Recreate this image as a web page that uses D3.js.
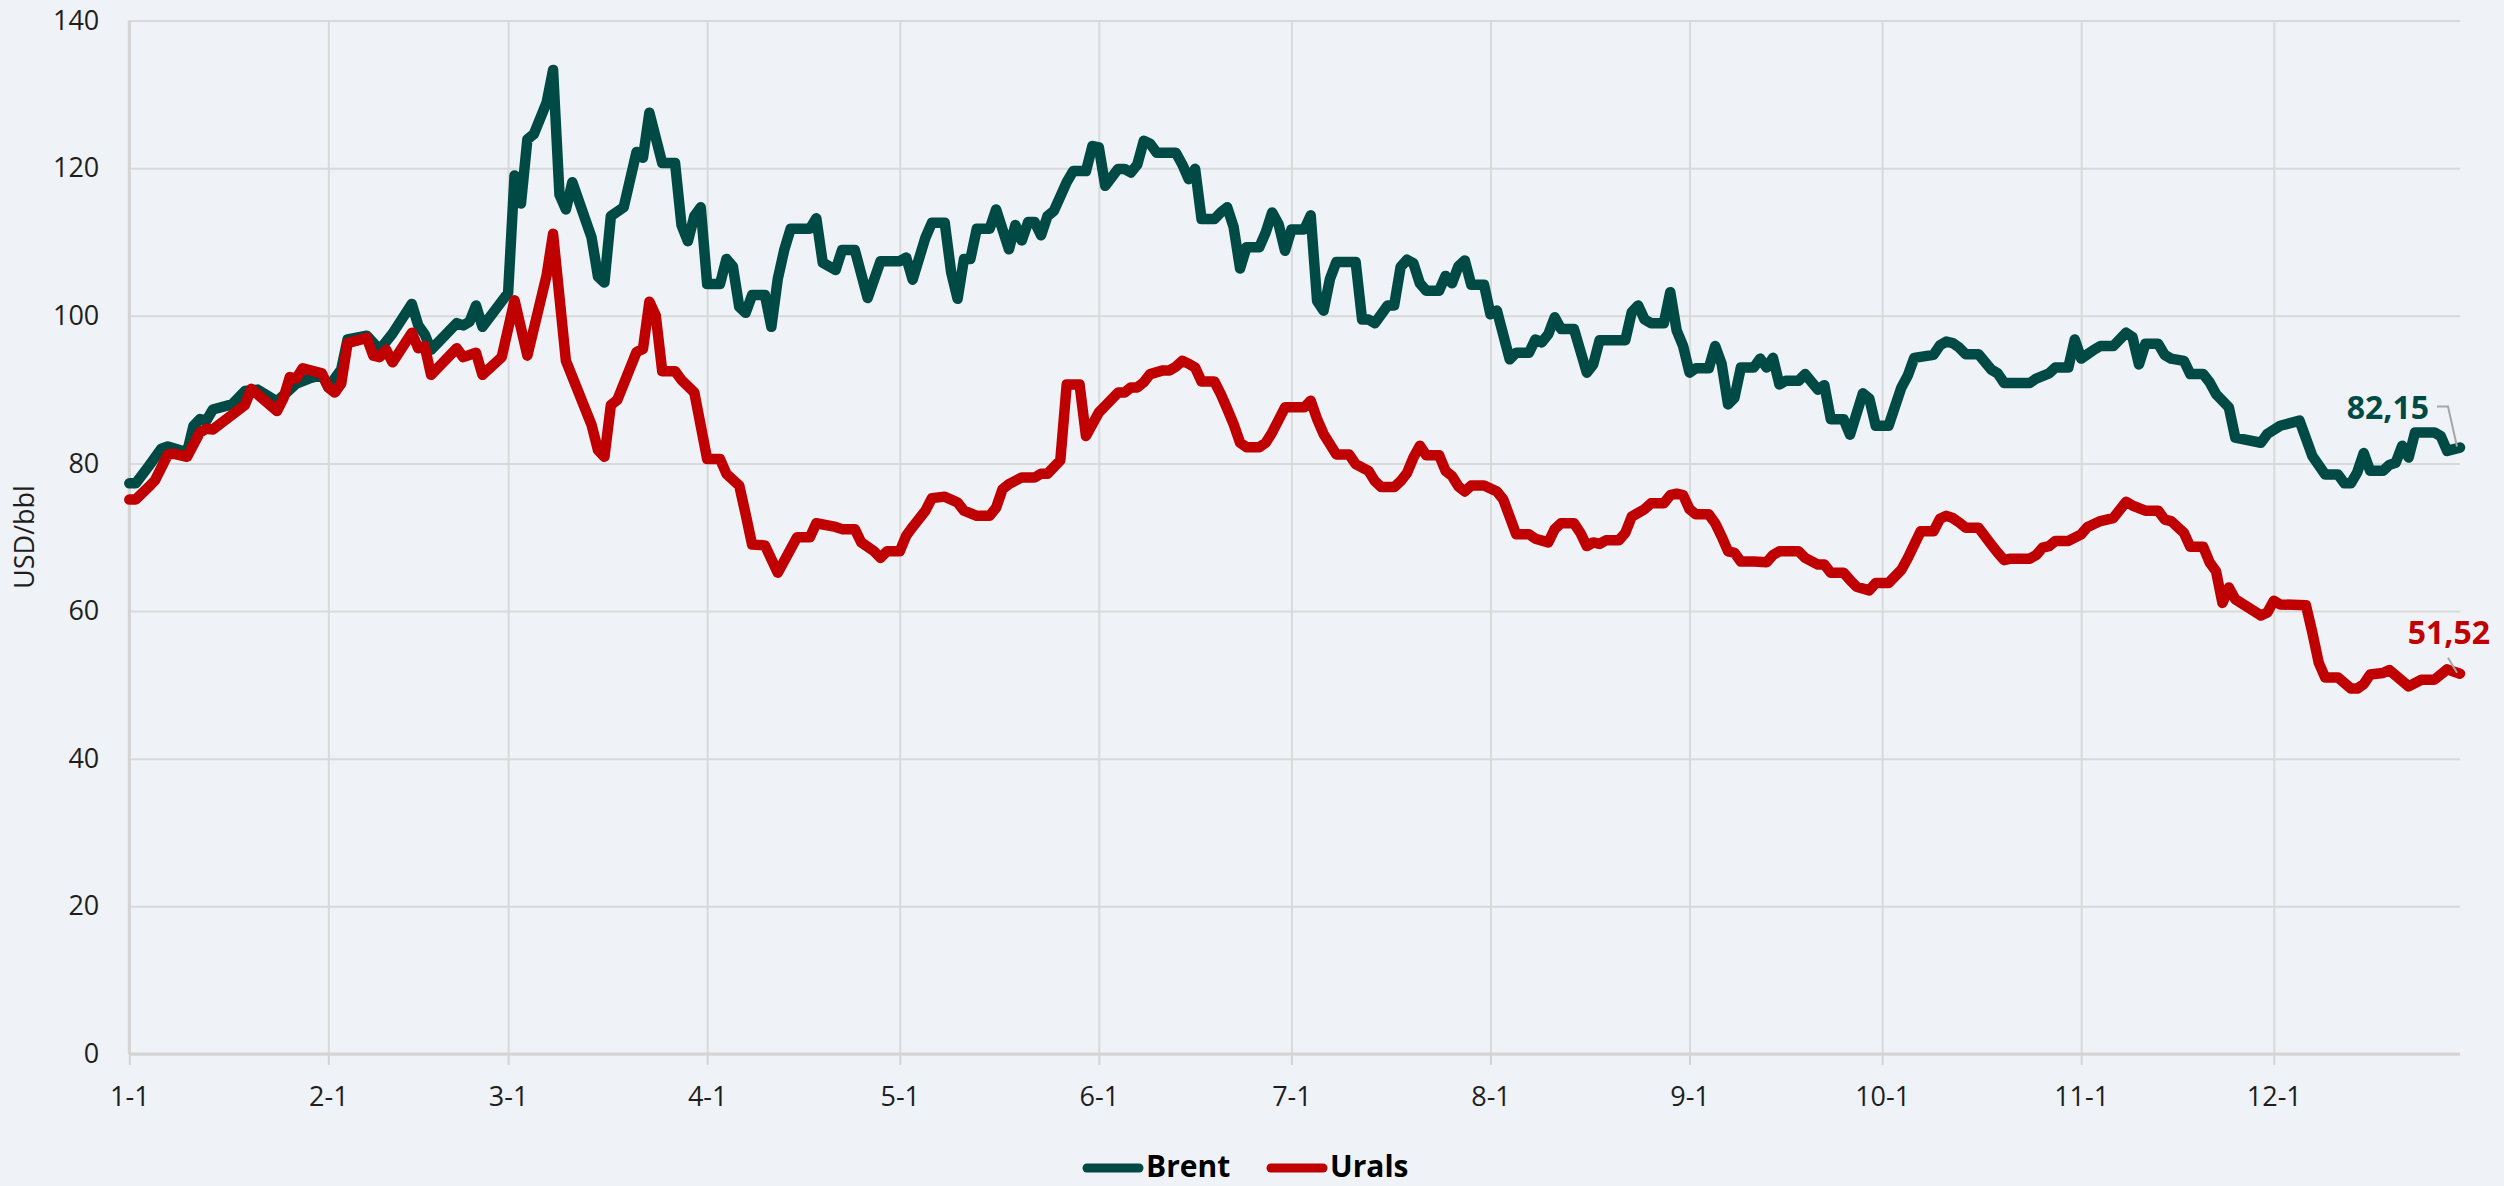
<!DOCTYPE html>
<html>
<head>
<meta charset="utf-8">
<title>Brent vs Urals, USD/bbl</title>
<script src="https://cdn.jsdelivr.net/npm/d3@7"></script>
<style>
  html, body { margin: 0; padding: 0; background: #eff3f7; }
  svg { display: block; }
  .axis text { font-family: "Open Sans", sans-serif; font-size: 27px; fill: #1e1e1e; }
  .axis .domain { display: none; }
  .grid line { stroke: #d9d9d9; stroke-width: 2px; }
  .grid .domain, .grid text { display: none; }
  .legend text { font-family: "Open Sans", sans-serif; font-size: 30px; font-weight: 700; fill: #000; }
  .last-label { font-family: "Open Sans", sans-serif; font-size: 32px; font-weight: 700; }
</style>
</head>
<body>
<svg id="chart" width="2504" height="1186"></svg>
<script>
// days are counted from 2022-01-01
var START = new Date(2022, 0, 1);
var END = new Date(2022, 11, 30);

var Y_TICKS = [0, 20, 40, 60, 80, 100, 120, 140];
var SERIES_NAMES = ['Brent', 'Urals'];
var SERIES_COLORS = ['#004a45', '#c00000'];
var LAST_LABELS = ['82,15', '51,52'];
var Y_TITLE = 'USD/bbl';

// [day, price]
var brent = [
  [0, 77.3], [1, 77.3], [3, 79.6], [5, 82.0], [6, 82.3], [9, 81.5], [10, 85.1], [11, 86.0], [12, 85.8], [13, 87.3],
  [16, 88.0], [18, 89.8], [20, 90.0], [23, 88.4], [26, 90.8], [28, 91.5], [30, 92.0], [31, 90.3], [33, 92.7], [34, 96.8],
  [37, 97.3], [39, 95.4], [41, 97.6], [44, 101.6], [45, 98.7], [46, 97.5], [47, 95.4], [51, 99.0], [52, 98.7], [53, 99.2],
  [54, 101.4], [55, 98.5], [59, 103.1], [60, 119.0], [61, 115.2], [62, 123.9], [63, 124.6], [65, 128.9], [66, 133.3], [67, 116.4],
  [68, 114.4], [69, 118.1], [72, 110.6], [73, 105.3], [74, 104.5], [75, 113.5], [77, 114.7], [79, 122.2], [80, 121.4], [81, 127.5],
  [83, 120.7], [85, 120.7], [86, 112.3], [87, 110.1], [88, 113.5], [89, 114.7], [90, 104.3], [92, 104.3], [93, 107.7], [94, 106.7],
  [95, 101.2], [96, 100.4], [97, 102.8], [99, 102.8], [100, 98.5], [101, 105.0], [102, 108.9], [103, 111.8], [106, 111.8], [107, 113.2],
  [108, 107.2], [110, 106.2], [111, 108.9], [113, 108.9], [115, 102.4], [117, 107.4], [120, 107.4], [121, 107.9], [122, 104.9], [124, 110.6],
  [125, 112.6], [127, 112.6], [128, 105.9], [129, 102.3], [130, 107.7], [131, 107.7], [132, 111.8], [134, 111.8], [135, 114.4], [137, 109.0],
  [138, 112.3], [139, 110.2], [140, 112.7], [141, 112.7], [142, 110.9], [143, 113.5], [144, 114.2], [146, 118.1], [147, 119.6], [149, 119.6],
  [150, 123.0], [151, 122.8], [152, 117.6], [154, 119.9], [155, 119.9], [156, 119.4], [157, 120.5], [158, 123.7], [159, 123.3], [160, 122.1],
  [163, 122.1], [164, 120.5], [165, 118.5], [166, 119.9], [167, 113.1], [169, 113.1], [170, 114.0], [171, 114.7], [172, 112.0], [173, 106.4],
  [174, 109.3], [176, 109.3], [177, 111.3], [178, 114.0], [179, 112.4], [180, 108.8], [181, 111.7], [183, 111.7], [184, 113.6], [185, 102.0],
  [186, 100.7], [187, 105.0], [188, 107.3], [191, 107.3], [192, 99.5], [193, 99.5], [194, 99.0], [196, 101.4], [197, 101.4], [198, 106.6],
  [199, 107.6], [200, 107.1], [201, 104.4], [202, 103.4], [204, 103.4], [205, 105.4], [206, 104.4], [207, 106.7], [208, 107.5], [209, 104.2],
  [211, 104.2], [212, 100.2], [213, 100.7], [215, 94.1], [216, 95.0], [218, 95.0], [219, 96.8], [220, 96.4], [221, 97.5], [222, 99.8],
  [223, 98.2], [225, 98.2], [227, 92.3], [228, 93.4], [229, 96.7], [233, 96.7], [234, 100.5], [235, 101.4], [236, 99.5], [237, 99.0],
  [239, 99.0], [240, 103.2], [241, 98.0], [242, 95.9], [243, 92.3], [244, 92.9], [246, 92.9], [247, 95.9], [248, 93.5], [249, 88.0],
  [250, 88.9], [251, 93.0], [253, 93.0], [254, 94.2], [255, 93.0], [256, 94.3], [257, 90.7], [258, 91.2], [260, 91.2], [261, 92.1],
  [263, 90.0], [264, 90.6], [265, 86.0], [267, 86.0], [268, 83.9], [269, 86.7], [270, 89.5], [271, 88.8], [272, 85.1], [274, 85.1],
  [276, 90.3], [277, 91.9], [278, 94.3], [281, 94.7], [282, 96.0], [283, 96.5], [284, 96.3], [285, 95.7], [286, 94.8], [288, 94.8],
  [290, 92.7], [291, 92.2], [292, 90.9], [296, 90.9], [297, 91.5], [299, 92.2], [300, 93.0], [302, 93.0], [303, 96.8], [304, 94.2],
  [305, 94.8], [306, 95.4], [307, 95.9], [309, 95.9], [311, 97.7], [312, 97.1], [313, 93.4], [314, 96.2], [316, 96.2], [317, 94.7],
  [318, 94.2], [320, 93.9], [321, 92.1], [323, 92.1], [324, 91.0], [325, 89.4], [327, 87.6], [328, 83.5], [332, 82.8], [333, 84.0],
  [335, 85.1], [338, 85.8], [339, 83.4], [340, 81.0], [342, 78.5], [344, 78.5], [345, 77.3], [346, 77.3], [347, 78.8], [348, 81.4],
  [349, 79.0], [351, 79.0], [352, 79.8], [353, 80.1], [354, 82.4], [355, 80.8], [356, 84.2], [359, 84.2], [360, 83.7], [361, 81.7],
  [363, 82.15]
];

// [day, price]
var urals = [
  [0, 75.1], [1, 75.1], [3, 76.8], [4, 77.7], [6, 81.2], [7, 81.3], [9, 80.9], [11, 84.2], [12, 84.7], [13, 84.6],
  [18, 87.9], [19, 90.1], [23, 87.1], [24, 88.8], [25, 91.7], [26, 91.5], [27, 92.9], [30, 92.2], [31, 90.3], [32, 89.6],
  [33, 90.8], [34, 96.3], [37, 97.0], [38, 94.6], [39, 94.4], [40, 95.4], [41, 93.7], [44, 97.7], [45, 95.6], [46, 95.9],
  [47, 92.0], [51, 95.6], [52, 94.4], [54, 95.0], [55, 92.0], [58, 94.4], [60, 102.1], [62, 94.6], [65, 105.5], [66, 111.1],
  [68, 93.9], [72, 85.2], [73, 81.8], [74, 80.9], [75, 87.9], [76, 88.6], [79, 95.1], [80, 95.5], [81, 101.9], [82, 100.0],
  [83, 92.5], [85, 92.5], [86, 91.3], [88, 89.6], [90, 80.6], [92, 80.6], [93, 78.6], [95, 77.0], [96, 73.1], [97, 69.0],
  [99, 68.9], [101, 65.2], [104, 70.0], [106, 70.0], [107, 71.9], [110, 71.4], [111, 71.1], [113, 71.1], [114, 69.3], [116, 68.1],
  [117, 67.2], [118, 68.1], [120, 68.1], [121, 70.2], [122, 71.4], [124, 73.6], [125, 75.3], [127, 75.5], [129, 74.7], [130, 73.6],
  [132, 72.9], [134, 72.9], [135, 74.0], [136, 76.5], [137, 77.2], [139, 78.1], [141, 78.1], [142, 78.6], [143, 78.6], [145, 80.4],
  [146, 90.7], [148, 90.7], [149, 83.7], [151, 86.9], [152, 87.8], [154, 89.6], [155, 89.6], [156, 90.3], [157, 90.3], [158, 91.0],
  [159, 92.1], [161, 92.6], [162, 92.6], [163, 93.1], [164, 93.9], [165, 93.5], [166, 93.0], [167, 91.1], [169, 91.1], [170, 89.4],
  [171, 87.4], [172, 85.3], [173, 82.8], [174, 82.2], [176, 82.2], [177, 82.8], [178, 84.2], [180, 87.6], [183, 87.6], [184, 88.5],
  [185, 86.0], [186, 84.0], [187, 82.6], [188, 81.2], [190, 81.2], [191, 79.9], [193, 79.0], [194, 77.6], [195, 76.8], [197, 76.8],
  [198, 77.6], [199, 78.7], [200, 80.8], [201, 82.4], [202, 81.1], [204, 81.1], [205, 79.0], [206, 78.3], [207, 76.9], [208, 76.2],
  [209, 77.0], [211, 77.0], [213, 76.2], [214, 75.1], [216, 70.4], [218, 70.4], [219, 69.8], [221, 69.3], [222, 71.1], [223, 71.9],
  [225, 71.9], [226, 70.6], [227, 68.8], [228, 69.3], [229, 69.1], [230, 69.6], [232, 69.6], [233, 70.6], [234, 72.8], [235, 73.3],
  [236, 73.8], [237, 74.6], [239, 74.6], [240, 75.7], [241, 75.9], [242, 75.7], [243, 73.8], [244, 73.1], [246, 73.1], [247, 71.9],
  [248, 70.1], [249, 68.1], [250, 67.9], [251, 66.7], [253, 66.7], [255, 66.6], [256, 67.6], [257, 68.1], [260, 68.1], [261, 67.2],
  [263, 66.3], [264, 66.3], [265, 65.2], [267, 65.2], [268, 64.2], [269, 63.3], [271, 62.8], [272, 63.8], [274, 63.8], [276, 65.6],
  [277, 67.2], [278, 69.0], [279, 70.8], [281, 70.8], [282, 72.5], [283, 72.9], [284, 72.6], [285, 72.0], [286, 71.3], [288, 71.3],
  [290, 69.0], [291, 67.9], [292, 66.9], [293, 67.1], [296, 67.1], [297, 67.6], [298, 68.6], [299, 68.8], [300, 69.5], [302, 69.5],
  [304, 70.4], [305, 71.4], [307, 72.2], [309, 72.6], [311, 74.8], [312, 74.3], [314, 73.6], [316, 73.6], [317, 72.4], [318, 72.2],
  [320, 70.6], [321, 68.7], [323, 68.7], [324, 66.6], [325, 65.4], [326, 61.1], [327, 63.2], [328, 61.6], [332, 59.4], [333, 59.8],
  [334, 61.4], [335, 60.9], [339, 60.8], [340, 57.1], [341, 53.0], [342, 51.0], [344, 51.0], [346, 49.5], [347, 49.5], [348, 50.1],
  [349, 51.4], [351, 51.6], [352, 52.0], [355, 49.8], [357, 50.7], [359, 50.7], [361, 52.1], [363, 51.52]
];

var svg = d3.select('#chart');
var plotLeft = 129.3, plotRight = 2460, plotTop = 20.5, plotBottom = 1054;

var x = d3.scaleTime().domain([START, END]).range([plotLeft, plotRight]);
var y = d3.scaleLinear().domain([0, 140]).range([plotBottom, plotTop]);
var monthTicks = d3.timeMonth.range(START, END);

// grid
svg.append('g').attr('class', 'grid')
  .attr('transform', 'translate(' + plotLeft + ',0)')
  .call(d3.axisLeft(y).tickValues(Y_TICKS).tickSize(-(plotRight - plotLeft)));
svg.append('g').attr('class', 'grid')
  .attr('transform', 'translate(0,' + plotBottom + ')')
  .call(d3.axisBottom(x).tickValues(monthTicks).tickSize(-(plotBottom - plotTop)));

// axis lines
svg.append('line').attr('x1', plotLeft).attr('x2', plotLeft).attr('y1', plotTop).attr('y2', plotBottom)
  .attr('stroke', '#d4d4d4').attr('stroke-width', 3);
svg.append('line').attr('x1', plotLeft).attr('x2', plotRight).attr('y1', plotBottom).attr('y2', plotBottom)
  .attr('stroke', '#d4d4d4').attr('stroke-width', 3);

// y labels
svg.append('g').attr('class', 'axis')
  .attr('transform', 'translate(' + plotLeft + ',0)')
  .call(d3.axisLeft(y).tickValues(Y_TICKS).tickSize(0).tickPadding(30))
  .selectAll('.tick line').remove();

// x labels + small ticks below axis
var xAxis = svg.append('g').attr('class', 'axis')
  .attr('transform', 'translate(0,' + plotBottom + ')')
  .call(d3.axisBottom(x).tickValues(monthTicks).tickFormat(d3.timeFormat('%-m-%-d'))
    .tickSize(11).tickPadding(22));
xAxis.selectAll('.tick line').attr('stroke', '#d4d4d4').attr('stroke-width', 2);

// y title
svg.append('text')
  .attr('transform', 'translate(34,537) rotate(-90)')
  .attr('text-anchor', 'middle')
  .style('font-family', '"Open Sans", sans-serif')
  .style('font-size', '27px')
  .style('fill', '#1e1e1e')
  .text(Y_TITLE);

// lines
var line = d3.line()
  .x(function (d) { return x(d3.timeDay.offset(START, d[0])); })
  .y(function (d) { return y(d[1]); });

[brent, urals].forEach(function (data, i) {
  svg.append('path')
    .datum(data)
    .attr('d', line)
    .attr('fill', 'none')
    .attr('stroke', SERIES_COLORS[i])
    .attr('stroke-width', 10.5)
    .attr('stroke-linejoin', 'round')
    .attr('stroke-linecap', 'round');
});

// end labels with leader lines
var bLast = brent[brent.length - 1], uLast = urals[urals.length - 1];
var bx = x(d3.timeDay.offset(START, bLast[0])), by = y(bLast[1]);
var ux = x(d3.timeDay.offset(START, uLast[0])), uy = y(uLast[1]);

svg.append('polyline')
  .attr('points', [[bx - 23, by - 41], [bx - 12, by - 41], [bx - 3, by - 1]].join(' '))
  .attr('fill', 'none').attr('stroke', '#a6a6a6').attr('stroke-width', 2);
svg.append('text').attr('class', 'last-label')
  .attr('x', bx - 31).attr('y', by - 29).attr('text-anchor', 'end')
  .style('fill', SERIES_COLORS[0]).text(LAST_LABELS[0]);

svg.append('polyline')
  .attr('points', [[ux - 12, uy - 16], [ux - 3, uy - 1]].join(' '))
  .attr('fill', 'none').attr('stroke', '#a6a6a6').attr('stroke-width', 2);
svg.append('text').attr('class', 'last-label')
  .attr('x', ux + 30).attr('y', uy - 30).attr('text-anchor', 'end')
  .style('fill', SERIES_COLORS[1]).text(LAST_LABELS[1]);

// legend
var legend = svg.append('g').attr('class', 'legend');
var legendX = [1083, 1267];
SERIES_NAMES.forEach(function (name, i) {
  legend.append('line')
    .attr('x1', legendX[i] + 4).attr('x2', legendX[i] + 56)
    .attr('y1', 1168).attr('y2', 1168)
    .attr('stroke', SERIES_COLORS[i]).attr('stroke-width', 9)
    .attr('stroke-linecap', 'round');
  legend.append('text')
    .attr('x', legendX[i] + 63).attr('y', 1177)
    .text(name);
});
</script>
</body>
</html>
